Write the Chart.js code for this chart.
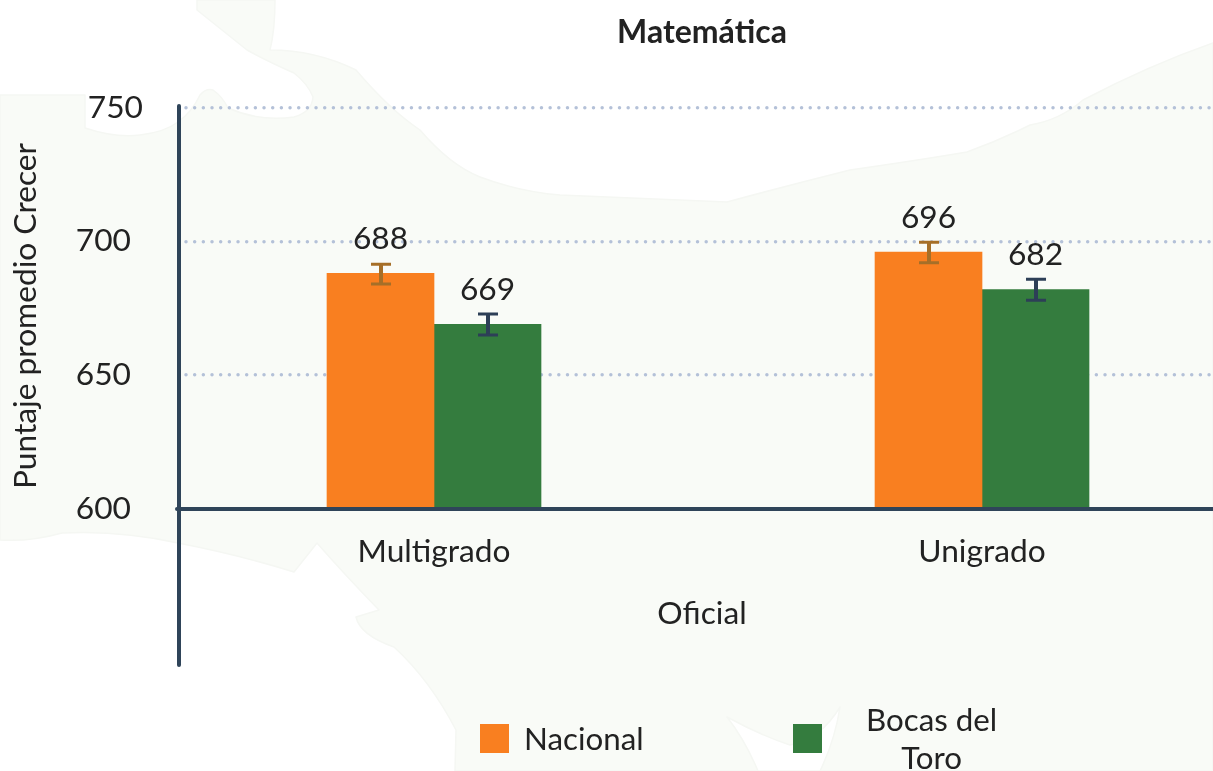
<!DOCTYPE html>
<html><head><meta charset="utf-8">
<style>
html,body{margin:0;padding:0;width:1213px;height:771px;overflow:hidden;background:#fff;font-family:Lato,sans-serif;color:#222}
#bg{position:absolute;left:0;top:0}
canvas{position:absolute;left:0;top:0}
.lg{position:absolute;font-size:31.3px;line-height:38px;text-align:center;white-space:nowrap}
.sw{position:absolute;width:29px;height:29px;top:724px}
</style></head><body>
<svg id="bg" width="1213" height="771" viewBox="0 0 1213 771">
<path fill="#f9fbf7" stroke="#f5f7f3" stroke-width="1.5" stroke-linejoin="round" d="M0,95 L85,95 L85,128 Q115,138 140,135 Q165,132 178,122 Q192,112 200,95 Q206,88 213,90 Q222,96 228,108 Q260,122 294,117 Q312,112 313,97 Q308,84 294,73 Q265,60 247,50 Q222,30 197,10 L197,0 L275,0 Q275,30 270,50 Q315,50 356,70 Q390,110 420,130 Q450,165 480,177 Q520,192 560,195 L727,202 Q790,185 850,170 Q920,160 967,152 Q1000,140 1030,125 Q1060,120 1083,100 Q1150,65 1213,43 L1213,771 L455,771 L456,730 Q430,680 394,647 Q360,635 356,617 L379,610 Q345,575 317,543 L294,572 Q240,555 178,543 Q120,530 62,533 Q30,542 0,540 Z"/>
<path fill="#ffffff" stroke="#f5f7f3" stroke-width="1.5" stroke-linejoin="round" d="M727,717 Q760,735 790,745 Q820,740 840,707 Q835,740 820,771 L758,771 Q745,740 727,717 Z"/>
</svg>
<canvas id="c" width="1225" height="771"></canvas>
<div class="sw" style="left:480px;background:#f97f20"></div>
<div class="lg" style="left:524px;top:719px">Nacional</div>
<div class="sw" style="left:793px;background:#347c3e"></div>
<div class="lg" style="left:866px;top:700px">Bocas del<br>Toro</div>
<script src="https://cdn.jsdelivr.net/npm/chart.js@4"></script>
<script>
const categories = ['Multigrado', 'Unigrado'];
const seriesNames = ['Nacional', 'Bocas del Toro'];
const nacional = [688, 696];
const bocas = [669, 682];
const nacionalLow = [684, 692];
const nacionalHigh = [691.4, 699.6];
const bocasLow = [665, 678];
const bocasHigh = [672.8, 685.8];
const yTicks = [600, 650, 700, 750];

const AXIS = '#2f4459', TEXT = '#222222';
const F = {family: 'Lato', size: 31.7};
const pts = a => a.map((y, i) => ({x: i, y}));

const extras = {
  id: 'extras',
  beforeDraw(c) { c.ctx.lineCap = 'round'; },
  afterDatasetsDraw(c) {
    const ctx = c.ctx, y = c.scales.y;
    ctx.save();
    ctx.lineCap = 'round';
    ctx.strokeStyle = AXIS; ctx.lineWidth = 4;
    ctx.beginPath(); ctx.moveTo(179, 106); ctx.lineTo(179, 665); ctx.stroke();
    ctx.lineCap = 'butt';
    c.data.datasets.forEach((d, di) => {
      c.getDatasetMeta(di).data.forEach((bar, i) => {
        const x = bar.x + 0.5, hi = y.getPixelForValue(d.errHigh[i]), lo = y.getPixelForValue(d.errLow[i]);
        ctx.strokeStyle = d.errColor;
        ctx.lineWidth = 4;
        ctx.beginPath(); ctx.moveTo(x, hi); ctx.lineTo(x, lo); ctx.stroke();
        ctx.lineWidth = 3;
        ctx.beginPath();
        ctx.moveTo(x - 10, hi); ctx.lineTo(x + 10, hi);
        ctx.moveTo(x - 10, lo); ctx.lineTo(x + 10, lo);
        ctx.stroke();
        ctx.fillStyle = TEXT; ctx.font = '31.7px Lato';
        ctx.textAlign = 'center'; ctx.textBaseline = 'middle';
        ctx.fillText(String(d.data[i].y), bar.x, bar.y - 34.5);
      });
    });
    ctx.restore();
  }
};

new Chart(document.getElementById('c'), {
  type: 'bar',
  data: {datasets: [
    {label: seriesNames[0], data: pts(nacional), backgroundColor: '#f97f20', errLow: nacionalLow, errHigh: nacionalHigh, errColor: '#a66f28'},
    {label: seriesNames[1], data: pts(bocas), backgroundColor: '#347c3e', errLow: bocasLow, errHigh: bocasHigh, errColor: '#2d3f57'}
  ]},
  options: {
    responsive: false, animation: false, devicePixelRatio: 1,
    barThickness: 107, barPercentage: 1, categoryPercentage: 1,
    layout: {padding: 0},
    plugins: {
      legend: {display: false}, tooltip: {enabled: false},
      title: {display: true, text: 'Matemática', fullSize: false, color: TEXT,
        font: {family: 'Lato', size: 32, weight: 'bold'}, padding: {top: 13, bottom: 56}}
    },
    scales: {
      x: {
        type: 'linear', offset: false, min: -0.46533, max: 1.4434,
        afterBuildTicks: s => { s.ticks = categories.map((_, i) => ({value: i})); },
        afterFit: s => { s.height = 262; },
        grid: {display: false, drawTicks: false},
        border: {display: true, color: AXIS, width: 4, z: 2},
        ticks: {callback: v => categories[v], color: TEXT, font: F, padding: 24, maxRotation: 0, autoSkip: false},
        title: {display: true, text: 'Oficial', color: TEXT, font: F, padding: {top: 138, bottom: 138}}
      },
      y: {
        min: 600, max: 750,
        afterBuildTicks: s => { s.ticks = yTicks.map(v => ({value: v})); },
        afterFit: s => { s.width = 179; },
        grid: {color: '#b4c1d8', lineWidth: 3.5, drawTicks: false},
        border: {display: false, dash: [0, 8.67], dashOffset: 1.67},
        ticks: {callback: v => v === 750 ? '750' : v + '\u00a0\u2009', color: TEXT, font: F, padding: 36},
        title: {display: true, text: 'Puntaje promedio Crecer\u00a0\u00a0', color: TEXT, font: F, padding: {top: 7, bottom: 7}}
      }
    }
  },
  plugins: [extras]
});
</script>
</body></html>
